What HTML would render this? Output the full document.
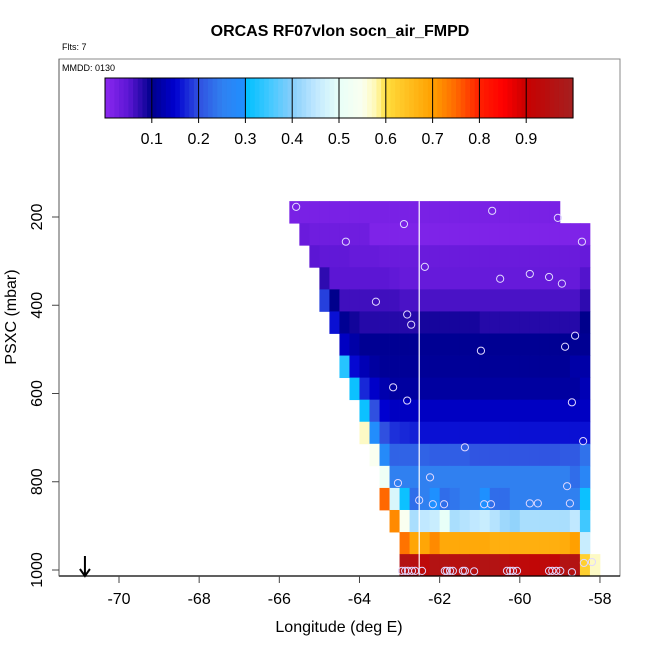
<!DOCTYPE html>
<html><head><meta charset="utf-8"><style>
html,body{margin:0;padding:0;background:#fff;}
svg{display:block;font-family:"Liberation Sans",sans-serif;}
</style></head><body>
<svg id="chart" width="650" height="650" viewBox="0 0 650 650">
<text x="340" y="36" text-anchor="middle" font-size="16" font-weight="bold">ORCAS RF07vlon socn_air_FMPD</text>
<text x="62" y="50" font-size="9">Flts: 7</text>
<rect x="59" y="59" width="561" height="517" fill="none" stroke="#888" stroke-width="1"/>
<text x="62" y="71" font-size="9">MMDD: 0130</text>
<g id="cbar"></g>
<g id="cells"></g>
<g id="pts"></g>
<g id="axes"></g>
<text x="339" y="632" text-anchor="middle" font-size="16">Longitude (deg E)</text>
<text transform="translate(16,317) rotate(-90)" text-anchor="middle" font-size="16">PSXC (mbar)</text>
</svg>
<script>
const xTicks = [-70, -68, -66, -64, -62, -60, -58];
const yTicks = [200, 400, 600, 800, 1000];
const cbarTicks = [0.1, 0.2, 0.3, 0.4, 0.5, 0.6, 0.7, 0.8, 0.9];
const lonStart = -65.75;
const lonStep = 0.25;
const pTop = 164;
const pStep = 50;
const rowStart = [0,1,2,3,3,4,5,5,6,7,7,8,9,9,10,11,11];
const row0 = [0.02,0.02,0.02,0.02,0.02,0.02,0.02,0.02,0.02,0.02,0.02,0.02,0.02,0.02,0.02,0.02,0.02,0.02,0.02,0.02,0.02,0.02,0.02,0.02,0.02,0.02,0.02];
const row1 = [0.035,0.03,0.03,0.03,0.03,0.03,0.03,0.015,0.015,0.015,0.015,0.015,0.015,0.015,0.015,0.015,0.015,0.015,0.015,0.015,0.015,0.015,0.015,0.015,0.015,0.015,0.015,0.015,0.015];
const row2 = [0.05,0.045,0.045,0.045,0.04,0.04,0.04,0.035,0.035,0.035,0.035,0.035,0.035,0.035,0.035,0.035,0.035,0.035,0.035,0.035,0.035,0.035,0.035,0.035,0.035,0.035,0.035,0.04];
const row3 = [0.075,0.05,0.05,0.05,0.05,0.05,0.05,0.045,0.04,0.04,0.04,0.04,0.04,0.04,0.04,0.04,0.04,0.04,0.04,0.04,0.04,0.04,0.04,0.04,0.04,0.04,0.055];
const row4 = [0.19,0.1,0.065,0.065,0.065,0.065,0.065,0.065,0.06,0.06,0.06,0.06,0.06,0.06,0.06,0.06,0.06,0.06,0.06,0.06,0.06,0.06,0.06,0.06,0.06,0.06,0.075];
const row5 = [0.16,0.105,0.09,0.08,0.08,0.08,0.08,0.08,0.08,0.088,0.088,0.088,0.088,0.088,0.088,0.08,0.08,0.08,0.08,0.08,0.08,0.08,0.08,0.08,0.08,0.1];
const row6 = [0.14,0.12,0.105,0.105,0.105,0.105,0.105,0.105,0.105,0.105,0.105,0.105,0.105,0.105,0.105,0.105,0.105,0.105,0.105,0.105,0.105,0.105,0.105,0.105,0.105];
const row7 = [0.33,0.155,0.13,0.115,0.108,0.108,0.108,0.108,0.108,0.108,0.108,0.108,0.108,0.108,0.108,0.108,0.108,0.108,0.108,0.108,0.108,0.108,0.108,0.12,0.12];
const row8 = [0.31,0.175,0.145,0.125,0.115,0.115,0.115,0.115,0.115,0.115,0.115,0.115,0.115,0.115,0.115,0.115,0.115,0.115,0.115,0.115,0.115,0.115,0.115,0.13];
const row9 = [0.31,0.2,0.15,0.14,0.14,0.14,0.14,0.14,0.14,0.14,0.14,0.14,0.14,0.14,0.14,0.14,0.14,0.14,0.14,0.14,0.14,0.14,0.14];
const row10 = [0.57,0.29,0.2,0.18,0.175,0.17,0.16,0.16,0.16,0.16,0.16,0.16,0.16,0.16,0.16,0.16,0.16,0.16,0.16,0.16,0.16,0.16,0.16];
const row11 = [0.55,0.28,0.22,0.22,0.22,0.22,0.215,0.215,0.215,0.215,0.205,0.205,0.205,0.205,0.205,0.205,0.205,0.205,0.205,0.21,0.21,0.235];
const row12 = [0.52,0.25,0.25,0.25,0.25,0.25,0.25,0.25,0.25,0.25,0.25,0.25,0.25,0.25,0.25,0.25,0.25,0.25,0.25,0.23,0.27];
const row13 = [0.75,0.48,0.31,0.23,0.25,0.3,0.23,0.24,0.25,0.25,0.3,0.23,0.23,0.25,0.25,0.25,0.25,0.25,0.25,0.25,0.31];
const row14 = [0.72,0.55,0.43,0.45,0.46,0.5,0.43,0.44,0.45,0.46,0.44,0.42,0.41,0.43,0.43,0.43,0.43,0.43,0.45,0.35];
const row15 = [0.74,0.69,0.69,0.72,0.685,0.685,0.685,0.685,0.685,0.675,0.675,0.675,0.675,0.675,0.675,0.675,0.68,0.7,0.46];
const row16 = [0.96,0.95,0.93,0.96,0.96,0.95,0.96,0.95,0.96,0.96,0.95,0.93,0.93,0.92,0.93,0.92,0.96,0.96,0.62,0.57];
const rows = [row0,row1,row2,row3,row4,row5,row6,row7,row8,row9,row10,row11,row12,row13,row14,row15,row16];
const ptLon = [-65.58,-62.89,-60.69,-59.05,-64.34,-58.45,-62.37,-60.49,-59.75,-59.27,-58.95,-63.59,-62.81,-62.71,-58.62,-58.87,-60.97,-63.16,-62.81,-58.70,-58.42,-61.37,-62.24,-63.04,-58.82,-62.51,-62.17,-61.89,-60.89,-60.72,-59.75,-59.55,-58.75,-58.40,-58.20,
 -62.94,-62.86,-62.79,-62.69,-62.61,-62.44,-61.87,-61.82,-61.74,-61.67,-61.42,-61.37,-61.14,-60.32,-60.24,-60.17,-60.07,-59.27,-59.19,-59.09,-58.99,-58.70];
const ptP = [177,216,186,202,256,256,313,340,329,336,351,392,421,444,469,494,503,586,616,620,708,722,790,803,810,842,851,851,851,851,849,849,849,984,982,
 1002,1002,1002,1002,1002,1002,1002,1002,1002,1002,1002,1002,1003,1002,1002,1002,1002,1002,1002,1002,1002,1005];
const flightLon = -62.51;
const arrowLon = -70.85;

const NS = "http://www.w3.org/2000/svg";
function xS(lon){ return 119 + (lon + 70) * 40.08; }
function yS(p){ return 217 + (p - 200) * 0.44125; }
const stops = [[0,"#8c28f0"],[0.05,"#5c16d4"],[0.1,"#00008c"],[0.15,"#0000d0"],[0.2,"#3050e0"],[0.25,"#3080f0"],[0.3,"#1e90ff"],[0.301,"#00bfff"],[0.35,"#40c8ff"],[0.4,"#87cefa"],[0.45,"#c0e8ff"],[0.5,"#e8fff8"],[0.55,"#fafff0"],[0.58,"#fff8b0"],[0.6,"#ffe040"],[0.62,"#ffd030"],[0.7,"#ffa000"],[0.75,"#ff6800"],[0.8,"#ff2000"],[0.85,"#ff0000"],[0.9,"#c80000"],[1.0,"#a52020"]];
function hex(c){ return [1,3,5].map(i=>parseInt(c.substr(i,2),16)); }
function cmap(v){
  v = Math.max(0, Math.min(1, v));
  for (let i = 1; i < stops.length; i++) {
    if (v <= stops[i][0]) {
      const a = stops[i-1], b = stops[i], t = (v - a[0]) / (b[0] - a[0]);
      const ca = hex(a[1]), cb = hex(b[1]);
      return "rgb(" + ca.map((c,j)=>Math.round(c + (cb[j]-c)*t)).join(",") + ")";
    }
  }
  return stops[stops.length-1][1];
}
function mk(tag, attrs, parent){
  const e = document.createElementNS(NS, tag);
  for (const k in attrs) e.setAttribute(k, attrs[k]);
  parent.appendChild(e);
  return e;
}

// colorbar
const cb = document.getElementById("cbar");
const cbX0 = 105, cbX1 = 573, cbY = 78, cbH = 40;
for (let i = 0; i < 100; i++) {
  const v = (i + 0.5) / 100;
  const r = mk("rect", {x: cbX0 + i*(cbX1-cbX0)/100, y: cbY, width: (cbX1-cbX0)/100 + 0.6, height: cbH, fill: cmap(v)}, cb);
  
  
}
const cbo = mk("rect", {x: cbX0, y: cbY, width: cbX1-cbX0, height: cbH, fill: "none", stroke: "#000", "stroke-width": 1}, cb);


cbarTicks.forEach(t => {
  const x = cbX0 + t * (cbX1 - cbX0);
  mk("line", {x1: x, x2: x, y1: cbY, y2: cbY + cbH + 5, stroke: "#000", "stroke-width": 1}, cb);
  const tx = mk("text", {x: x, y: cbY + cbH + 26, "text-anchor": "middle", "font-size": 16}, cb);
  tx.textContent = t.toFixed(1);
  
  
});

// cells
const cg = document.getElementById("cells");
rows.forEach((vals, ri) => {
  const p0 = pTop + ri * pStep, p1 = p0 + pStep;
  vals.forEach((v, j) => {
    if (v === null) return;
    const k = rowStart[ri] + j;
    const l0 = lonStart + k * lonStep, l1 = l0 + lonStep;
    const r = mk("rect", {x: xS(l0), y: yS(p0), width: xS(l1) - xS(l0) + 0.4, height: yS(p1) - yS(p0) + 0.4, fill: cmap(v)}, cg);
    
    
  });
});
const fl = mk("line", {x1: xS(flightLon), x2: xS(flightLon), y1: yS(pTop), y2: 576, stroke: "#fff", "stroke-width": 1.2}, cg);



// points
const pg = document.getElementById("pts");
ptLon.forEach((lon, i) => {
  const c = mk("circle", {cx: xS(lon), cy: yS(ptP[i]), r: 3.6, fill: "none", stroke: "#e0d8ff", "stroke-width": 1}, pg);
  
  
});

// axes
const ag = document.getElementById("axes");
mk("line", {x1: 59, x2: 620, y1: 576, y2: 576, stroke: "#000", "stroke-width": 1.2}, ag);
mk("line", {x1: 59, x2: 59, y1: 59, y2: 576, stroke: "#555", "stroke-width": 1}, ag);
xTicks.forEach(t => {
  const x = xS(t);
  mk("line", {x1: x, x2: x, y1: 576, y2: 583, stroke: "#444", "stroke-width": 1}, ag);
  const tx = mk("text", {x: x, y: 604, "text-anchor": "middle", "font-size": 16}, ag);
  tx.textContent = String(t);
  
  
});
yTicks.forEach(t => {
  const y = yS(t);
  mk("line", {x1: 52, x2: 59, y1: y, y2: y, stroke: "#444", "stroke-width": 1}, ag);
  const tx = mk("text", {"text-anchor": "middle", "font-size": 16, transform: "translate(42," + y + ") rotate(-90)"}, ag);
  tx.textContent = String(t);
  
  
});
const ax = xS(arrowLon);
const ar = mk("path", {d: "M" + ax + " 556 L" + ax + " 576 M" + (ax-5) + " 569 L" + ax + " 576 L" + (ax+5) + " 569", stroke: "#000", "stroke-width": 2, fill: "none"}, ag);


</script>
</body></html>
